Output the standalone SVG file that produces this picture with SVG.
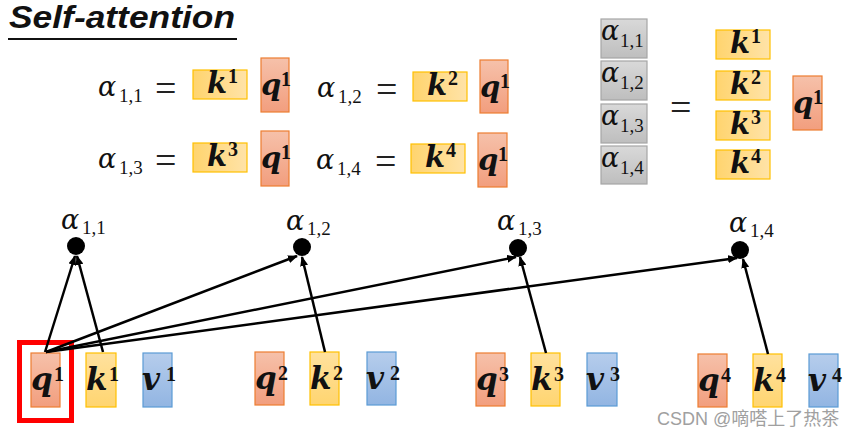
<svg xmlns="http://www.w3.org/2000/svg" width="863" height="438" viewBox="0 0 863 438">
<defs>
<linearGradient id="gq" x1="0" y1="0" x2="0" y2="1"><stop offset="0" stop-color="#F6C1AA"/><stop offset="1" stop-color="#F29E7E"/></linearGradient>
<linearGradient id="gk" x1="0" y1="0" x2="1" y2="0"><stop offset="0" stop-color="#FFD46E"/><stop offset="1" stop-color="#FFE3A8"/></linearGradient>
<linearGradient id="gk2" x1="0" y1="0" x2="0" y2="1"><stop offset="0" stop-color="#FFE19E"/><stop offset="1" stop-color="#FFD570"/></linearGradient>
<linearGradient id="gv" x1="0" y1="0" x2="0" y2="1"><stop offset="0" stop-color="#B6CDEC"/><stop offset="1" stop-color="#92B5E2"/></linearGradient>
<linearGradient id="gg" x1="0" y1="0" x2="0" y2="1"><stop offset="0" stop-color="#D9D9D9"/><stop offset="1" stop-color="#BEBEBE"/></linearGradient>
<marker id="ah" markerWidth="10" markerHeight="8" refX="9" refY="4" orient="auto" markerUnits="userSpaceOnUse"><path d="M0,0 L10,4 L0,8 Z" fill="#000"/></marker>
</defs>
<style>
.q{fill:url(#gq);stroke:#ED7D31;stroke-width:1.2}
.k{fill:url(#gk);stroke:#FFC000;stroke-width:1.2}
.kb{fill:url(#gk2);stroke:#FFC000;stroke-width:1.2}
.v{fill:url(#gv);stroke:#5B9BD5;stroke-width:1.2}
.g{fill:url(#gg);stroke:#A6A6A6;stroke-width:1.2}
.m{font-family:"DejaVu Serif","Liberation Serif",serif;font-style:italic;font-weight:bold;font-size:29px;fill:#111}
.m tspan{font-family:"Liberation Serif","DejaVu Serif",serif;font-style:normal;font-weight:bold;font-size:20px}
.mb{font-size:31px}
.a{font-family:"DejaVu Serif","Liberation Serif",serif;font-style:italic;font-size:27px;fill:#111}
.a tspan{font-family:"Liberation Serif","DejaVu Serif",serif;font-style:normal;font-size:19px}
.eq{font-family:"Liberation Serif","DejaVu Serif",serif;font-size:38px;fill:#222}
.conn line{stroke:#000;stroke-width:2.5;marker-end:url(#ah)}
</style>
<rect width="863" height="438" fill="#fff"/>
<g id="title">
<text x="9" y="28" font-family="Liberation Sans,Arial,sans-serif" font-weight="bold" font-style="italic" font-size="32" textLength="226" lengthAdjust="spacingAndGlyphs" fill="#111">Self-attention</text>
<line x1="8" y1="39" x2="237" y2="39" stroke="#111" stroke-width="2"/>
</g>
<g id="eq11">
<text x="98" y="96" class="a">α<tspan x="119" y="102">1,1</tspan></text>
<text x="155" y="101" class="eq">=</text>
<rect x="193" y="70" width="54" height="29" class="k"/>
<text x="207" y="93" class="m">k<tspan x="228" y="83">1</tspan></text>
<rect x="261" y="58" width="28" height="54" class="q"/>
<text x="261" y="95" class="m">q<tspan x="281" y="86">1</tspan></text>
</g>
<g id="eq12">
<text x="317" y="97" class="a">α<tspan x="338" y="103">1,2</tspan></text>
<text x="376" y="102" class="eq">=</text>
<rect x="413" y="72" width="54" height="29" class="k"/>
<text x="427" y="95" class="m">k<tspan x="448" y="85">2</tspan></text>
<rect x="480" y="60" width="28" height="53" class="q"/>
<text x="480" y="97" class="m">q<tspan x="500" y="88">1</tspan></text>
</g>
<g id="eq13">
<text x="98" y="168" class="a">α<tspan x="119" y="174">1,3</tspan></text>
<text x="155" y="173" class="eq">=</text>
<rect x="193" y="143" width="54" height="29" class="k"/>
<text x="207" y="166" class="m">k<tspan x="228" y="156">3</tspan></text>
<rect x="261" y="131" width="28" height="55" class="q"/>
<text x="261" y="168" class="m">q<tspan x="281" y="159">1</tspan></text>
</g>
<g id="eq14">
<text x="316" y="169" class="a">α<tspan x="337" y="175">1,4</tspan></text>
<text x="375" y="174" class="eq">=</text>
<rect x="411" y="144" width="54" height="29" class="k"/>
<text x="425" y="167" class="m">k<tspan x="446" y="157">4</tspan></text>
<rect x="478" y="133" width="29" height="54" class="q"/>
<text x="478" y="170" class="m">q<tspan x="498" y="161">1</tspan></text>
</g>
<g id="matrix">
<rect x="601" y="19" width="46" height="39" class="g"/>
<text x="601" y="40" class="a">α<tspan x="620" y="47">1,1</tspan></text>
<rect x="601" y="61" width="46" height="39" class="g"/>
<text x="601" y="82" class="a">α<tspan x="620" y="89">1,2</tspan></text>
<rect x="601" y="104" width="46" height="39" class="g"/>
<text x="601" y="125" class="a">α<tspan x="620" y="132">1,3</tspan></text>
<rect x="601" y="146" width="46" height="38" class="g"/>
<text x="601" y="167" class="a">α<tspan x="620" y="174">1,4</tspan></text>
<text x="670" y="120" class="eq">=</text>
<rect x="716" y="30" width="54" height="29" class="k"/>
<text x="730" y="53" class="m">k<tspan x="751" y="43">1</tspan></text>
<rect x="716" y="71" width="54" height="29" class="k"/>
<text x="730" y="94" class="m">k<tspan x="751" y="84">2</tspan></text>
<rect x="716" y="111" width="54" height="29" class="k"/>
<text x="730" y="134" class="m">k<tspan x="751" y="124">3</tspan></text>
<rect x="716" y="150" width="54" height="29" class="k"/>
<text x="730" y="173" class="m">k<tspan x="751" y="163">4</tspan></text>
<rect x="793" y="76" width="29" height="54" class="q"/>
<text x="793" y="113" class="m">q<tspan x="813" y="104">1</tspan></text>
</g>
<g id="a11"><text x="61" y="229" class="a">α<tspan x="82" y="234">1,1</tspan></text><circle cx="76" cy="246" r="9" fill="#000"/></g>
<g id="a12"><text x="286" y="230" class="a">α<tspan x="307" y="235">1,2</tspan></text><circle cx="302" cy="247" r="9" fill="#000"/></g>
<g id="a13"><text x="497" y="230" class="a">α<tspan x="518" y="235">1,3</tspan></text><circle cx="518" cy="248" r="9" fill="#000"/></g>
<g id="a14"><text x="729" y="232" class="a">α<tspan x="750" y="237">1,4</tspan></text><circle cx="740" cy="250" r="9" fill="#000"/></g>
<g id="x1">
<rect x="19.5" y="342.5" width="52" height="78" fill="none" stroke="#FF0000" stroke-width="5"/>
<rect x="31" y="353" width="29" height="54" class="q"/><text x="31" y="390" class="m mb">q<tspan x="54" y="381">1</tspan></text>
<rect x="86" y="353" width="30" height="54" class="kb"/><text x="86" y="390" class="m mb">k<tspan x="109" y="381">1</tspan></text>
<rect x="143" y="353" width="29" height="54" class="v"/><text x="142" y="390" class="m mb">v<tspan x="166" y="381">1</tspan></text>
</g>
<g id="x2">
<rect x="255" y="352" width="29" height="53" class="q"/><text x="255" y="389" class="m mb">q<tspan x="278" y="380">2</tspan></text>
<rect x="310" y="352" width="29" height="53" class="kb"/><text x="310" y="389" class="m mb">k<tspan x="333" y="380">2</tspan></text>
<rect x="367" y="352" width="29" height="53" class="v"/><text x="366" y="389" class="m mb">v<tspan x="390" y="380">2</tspan></text>
</g>
<g id="x3">
<rect x="476" y="353" width="29" height="53" class="q"/><text x="476" y="390" class="m mb">q<tspan x="499" y="381">3</tspan></text>
<rect x="531" y="353" width="29" height="53" class="kb"/><text x="531" y="390" class="m mb">k<tspan x="554" y="381">3</tspan></text>
<rect x="587" y="353" width="30" height="53" class="v"/><text x="586" y="390" class="m mb">v<tspan x="610" y="381">3</tspan></text>
</g>
<g id="x4">
<rect x="698" y="354" width="29" height="53" class="q"/><text x="698" y="391" class="m mb">q<tspan x="721" y="382">4</tspan></text>
<rect x="753" y="354" width="29" height="53" class="kb"/><text x="753" y="391" class="m mb">k<tspan x="776" y="382">4</tspan></text>
<rect x="809" y="354" width="29" height="53" class="v"/><text x="808" y="391" class="m mb">v<tspan x="832" y="382">4</tspan></text>
</g>
<g class="conn" id="connectors">
<line x1="45" y1="352" x2="75" y2="256"/>
<line x1="103" y1="352" x2="77" y2="256"/>
<line x1="46" y1="352" x2="297" y2="256"/>
<line x1="46" y1="352" x2="516" y2="257"/>
<line x1="46" y1="352" x2="737" y2="258"/>
<line x1="325" y1="352" x2="302" y2="257"/>
<line x1="546" y1="353" x2="520" y2="257"/>
<line x1="768" y1="354" x2="743" y2="259"/>
</g>
<text x="657" y="425" font-family="Liberation Sans,Noto Sans CJK SC,sans-serif" font-size="18" fill="#A0A0A0">CSDN @嘀嗒上了热茶</text>
</svg>
